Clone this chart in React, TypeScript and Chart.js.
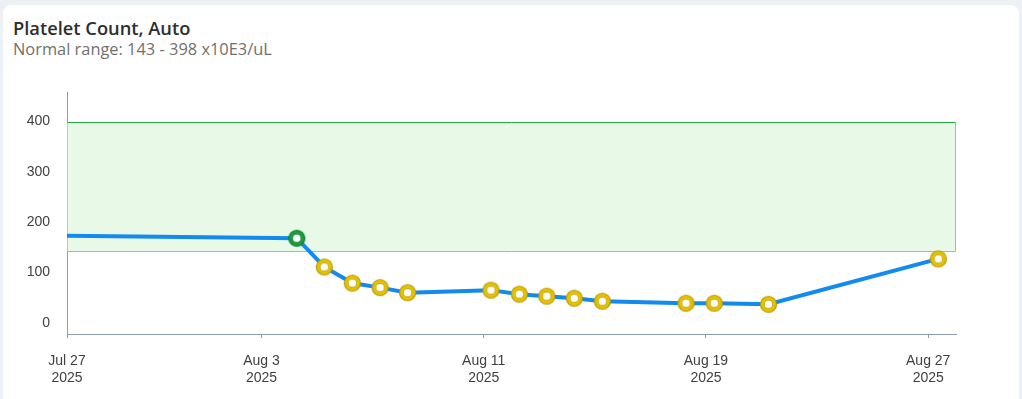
import { useEffect, useRef } from "react";
import { Chart, registerables } from "chart.js";

Chart.register(...registerables);

const chartTitle = "Platelet Count, Auto";
const chartSubtitle = "Normal range: 143 - 398 x10E3/uL";

// sample collection times and platelet values (x10E3/uL)
const sampleTimes = [
  "2025-07-27T00:00",
  "2025-08-04T06:30",
  "2025-08-05T06:15",
  "2025-08-06T06:30",
  "2025-08-07T06:30",
  "2025-08-08T06:15",
  "2025-08-11T06:15",
  "2025-08-12T06:45",
  "2025-08-13T06:30",
  "2025-08-14T06:15",
  "2025-08-15T06:30",
  "2025-08-18T06:45",
  "2025-08-19T07:10",
  "2025-08-21T06:00",
  "2025-08-27T08:40",
];
const plateletValues = [173, 168, 111, 79, 70, 60, 65, 57, 53, 49, 43, 39, 39, 37, 127];
// marker kind per sample: "none" (line edge), "normal", "abnormal"
const sampleFlags = [
  "none", "normal", "abnormal", "abnormal", "abnormal", "abnormal", "abnormal",
  "abnormal", "abnormal", "abnormal", "abnormal", "abnormal", "abnormal", "abnormal", "abnormal",
];

const normalLow = 143;
const normalHigh = 398;

const xStart = "2025-07-27";
const xEnd = "2025-08-28";
const xTickDates = ["2025-07-27", "2025-08-03", "2025-08-11", "2025-08-19", "2025-08-27"];
const xTickLabels = [
  ["Jul 27", "2025"],
  ["Aug 3", "2025"],
  ["Aug 11", "2025"],
  ["Aug 19", "2025"],
  ["Aug 27", "2025"],
];
const yMin = -22;
const yMax = 458;
const yTickValues = [0, 100, 200, 300, 400];

function dayOffset(s: string): number {
  const [d, t = "00:00"] = s.split("T");
  const [Y, M, D] = d.split("-").map(Number);
  const [h, m] = t.split(":").map(Number);
  return (Date.UTC(Y, M - 1, D, h, m) - Date.UTC(2025, 6, 27)) / 86400000;
}

function makeMarker(outline: string, ring: string): HTMLCanvasElement {
  const c = document.createElement("canvas");
  c.width = 19;
  c.height = 19;
  const g = c.getContext("2d")!;
  const cx = 9.5;
  g.beginPath();
  g.arc(cx, cx, 8.6, 0, Math.PI * 2);
  g.fillStyle = outline;
  g.fill();
  g.beginPath();
  g.arc(cx, cx, 7.4, 0, Math.PI * 2);
  g.fillStyle = ring;
  g.fill();
  g.beginPath();
  g.arc(cx, cx, 4.4, 0, Math.PI * 2);
  g.fillStyle = outline;
  g.fill();
  g.beginPath();
  g.arc(cx, cx, 3.8, 0, Math.PI * 2);
  g.fillStyle = "#ffffff";
  g.fill();
  return c;
}

const normalBandPlugin = {
  id: "normalBand",
  beforeDatasetsDraw(chart: any) {
    const { ctx, chartArea, scales } = chart;
    const y = scales.y;
    const top = Math.round(y.getPixelForValue(normalHigh)) + 0.5;
    const bottom = Math.round(y.getPixelForValue(normalLow)) + 0.5;
    const left = chartArea.left + 0.5;
    const right = Math.round(chartArea.right) - 0.5;
    ctx.save();
    ctx.fillStyle = "#e9f9e8";
    ctx.fillRect(left, top, right - left, bottom - top);
    ctx.lineWidth = 1;
    ctx.strokeStyle = "#86cf94";
    ctx.beginPath();
    ctx.moveTo(left, bottom);
    ctx.lineTo(right, bottom);
    ctx.lineTo(right, top);
    ctx.stroke();
    ctx.strokeStyle = "#22a843";
    ctx.beginPath();
    ctx.moveTo(left, top);
    ctx.lineTo(right, top);
    ctx.stroke();
    ctx.restore();
  },
};

export default function App() {
  const canvasRef = useRef<HTMLCanvasElement | null>(null);

  useEffect(() => {
    if (!canvasRef.current) return;
    Chart.defaults.font.family = "'Liberation Sans', Arial, sans-serif";
    const yellow = makeMarker("#b99a08", "#e6c200");
    const green = makeMarker("#0e7d2e", "#1c9e3e");
    const data = sampleTimes.map((t, i) => ({ x: dayOffset(t), y: plateletValues[i] }));
    const axisColor = "#8d9cab";
    const chart = new Chart(canvasRef.current, {
      type: "line",
      data: {
        datasets: [
          {
            data,
            borderColor: "#128aee",
            borderWidth: 4,
            tension: 0,
            pointStyle: sampleFlags.map((f) => (f === "normal" ? green : yellow)) as any,
            pointRadius: sampleFlags.map((f) => (f === "none" ? 0 : 9)),
            pointHoverRadius: sampleFlags.map((f) => (f === "none" ? 0 : 9)),
          },
        ],
      },
      options: {
        responsive: false,
        animation: false,
        layout: { padding: { left: 0, top: 92, right: 66, bottom: 0 } },
        plugins: { legend: { display: false }, tooltip: { enabled: false } },
        scales: {
          x: {
            type: "linear",
            min: dayOffset(xStart),
            max: dayOffset(xEnd),
            afterBuildTicks: (s: any) => {
              s.ticks = xTickDates.map((d) => ({ value: dayOffset(d) }));
            },
            afterFit: (s: any) => {
              s.height = 65;
            },
            border: { display: true, color: axisColor, width: 1 },
            grid: {
              display: true,
              drawOnChartArea: false,
              drawTicks: true,
              tickLength: 4,
              color: axisColor,
            },
            ticks: {
              autoSkip: false,
              maxRotation: 0,
              padding: 15,
              color: "#404040",
              font: { size: 14 },
              callback: (_v: any, i: number) => xTickLabels[i],
            },
          },
          y: {
            min: yMin,
            max: yMax,
            afterBuildTicks: (s: any) => {
              s.ticks = yTickValues.map((v) => ({ value: v }));
            },
            afterFit: (s: any) => {
              s.width = 67;
            },
            border: { display: true, color: axisColor, width: 1 },
            grid: { display: false, drawTicks: false },
            ticks: {
              padding: 17,
              color: "#404040",
              font: { size: 14 },
              callback: (v: any) => String(v),
            },
          },
        },
      },
      plugins: [normalBandPlugin],
    });
    return () => chart.destroy();
  }, []);

  return (
    <div
      style={{
        position: "fixed",
        left: 0,
        top: 0,
        width: 1022,
        height: 399,
        background: "#edf0f4",
        overflow: "hidden",
      }}
    >
      <div
        style={{
          position: "absolute",
          left: 3,
          top: 5,
          width: 1016,
          height: 410,
          background: "#ffffff",
          borderRadius: 8,
        }}
      />
      <div
        style={{
          position: "absolute",
          left: 13,
          top: 16,
          fontFamily: "'Open Sans', 'Noto Sans', sans-serif",
          fontWeight: 600,
          fontSize: 18.3,
          lineHeight: "24px",
          color: "#2e2e2e",
          whiteSpace: "nowrap",
        }}
      >
        {chartTitle}
      </div>
      <div
        style={{
          position: "absolute",
          left: 13,
          top: 38.5,
          fontFamily: "'Open Sans', 'Noto Sans', sans-serif",
          fontSize: 16.4,
          lineHeight: "20px",
          color: "#707070",
          whiteSpace: "nowrap",
        }}
      >
        {chartSubtitle}
      </div>
      <canvas
        ref={canvasRef}
        width={1022}
        height={399}
        style={{ position: "absolute", left: 0, top: 0, width: 1022, height: 399 }}
      />
    </div>
  );
}
